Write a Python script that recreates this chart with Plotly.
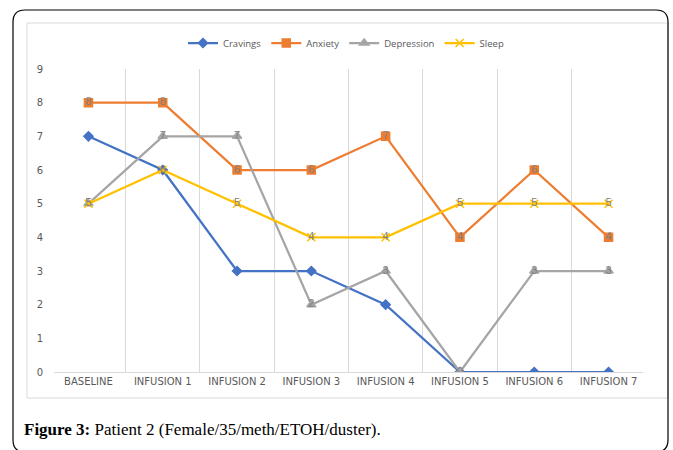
import plotly.graph_objects as go

categories = ["BASELINE", "INFUSION 1", "INFUSION 2", "INFUSION 3",
              "INFUSION 4", "INFUSION 5", "INFUSION 6", "INFUSION 7"]
cravings = [7, 6, 3, 3, 2, 0, 0, 0]
anxiety = [8, 8, 6, 6, 7, 4, 6, 4]
depression = [5, 7, 7, 2, 3, 0, 3, 3]
sleep = [5, 6, 5, 4, 4, 5, 5, 5]
y_ticks = list(range(0, 10))

W, H = 673, 450
def px(x): return x / W
def py(y): return 1 - y / H

fig = go.Figure()
series = [
    ("Cravings", cravings, "#4472C4", "diamond", 7, False),
    ("Anxiety", anxiety, "#ED7D31", "square", 8, True),
    ("Depression", depression, "#A5A5A5", "triangle-up", 8, True),
    ("Sleep", sleep, "#FFC000", "x-thin", 8, True),
]
for name, vals, col, sym, size, lab in series:
    fig.add_trace(go.Scatter(
        x=categories, y=vals, name=name,
        mode="lines+markers+text" if lab else "lines+markers",
        text=[str(v) for v in vals] if lab else None,
        textposition="middle center",
        textfont=dict(family="Liberation Sans", size=11, color="#7F7F7F"),
        line=dict(color=col, width=2.25),
        marker=dict(symbol=sym, size=size, color=col,
                    line=dict(color=col, width=1.5)),
    ))

fig.update_layout(
    width=W, height=H,
    margin=dict(l=0, r=0, t=0, b=0, autoexpand=False),
    paper_bgcolor="white", plot_bgcolor="white",
    showlegend=True,
    legend=dict(orientation="h", x=px(346), xanchor="center", y=py(43), yanchor="middle",
                font=dict(family="Open Sans", size=9.5, color="#595959"),
                itemwidth=30, tracegroupgap=0, traceorder="normal"),
    xaxis=dict(domain=[px(54), px(643)], type="category", tickson="boundaries",
               showgrid=True, gridcolor="#D9D9D9", gridwidth=1,
               showline=True, linecolor="#D9D9D9", ticks="",
               tickfont=dict(family="DejaVu Sans", size=10, color="#595959"),
               zeroline=False, fixedrange=True, automargin=False),
    yaxis=dict(domain=[py(372), py(69)], range=[0, 9], tickvals=y_ticks,
               showgrid=False, zeroline=False, showline=False, ticks="",
               tickfont=dict(family="DejaVu Sans", size=10, color="#595959"),
               ticklabelstandoff=10, automargin=False),
    font=dict(family="DejaVu Sans"),
)

# inner chart frame and outer rounded border
fig.add_shape(type="rect", xref="paper", yref="paper",
              x0=px(27), x1=px(668), y0=py(398), y1=py(23),
              line=dict(color="#D9D9D9", width=1), layer="below")
r = 12
x0, x1, y0, y1 = 13, 668, 10, 452
path = (f"M {px(x0+r)},{py(y0)} L {px(x1-r)},{py(y0)} "
        f"Q {px(x1)},{py(y0)} {px(x1)},{py(y0+r)} "
        f"L {px(x1)},{py(y1-r)} Q {px(x1)},{py(y1)} {px(x1-r)},{py(y1)} "
        f"L {px(x0+r)},{py(y1)} Q {px(x0)},{py(y1)} {px(x0)},{py(y1-r)} "
        f"L {px(x0)},{py(y0+r)} Q {px(x0)},{py(y0)} {px(x0+r)},{py(y0)} Z")
fig.add_shape(type="path", xref="paper", yref="paper", path=path,
              line=dict(color="#000000", width=1.2))

fig.add_annotation(xref="paper", yref="paper", x=px(22), y=py(429),
                   xanchor="left", yanchor="middle", showarrow=False,
                   text="<b>Figure 3:</b> Patient 2 (Female/35/meth/ETOH/duster).",
                   font=dict(family="Liberation Serif", size=17, color="#000000"))

fig.write_html("out.html", config={"displayModeBar": False},
               post_script="document.body.style.margin='0';document.body.style.overflow='hidden';")
